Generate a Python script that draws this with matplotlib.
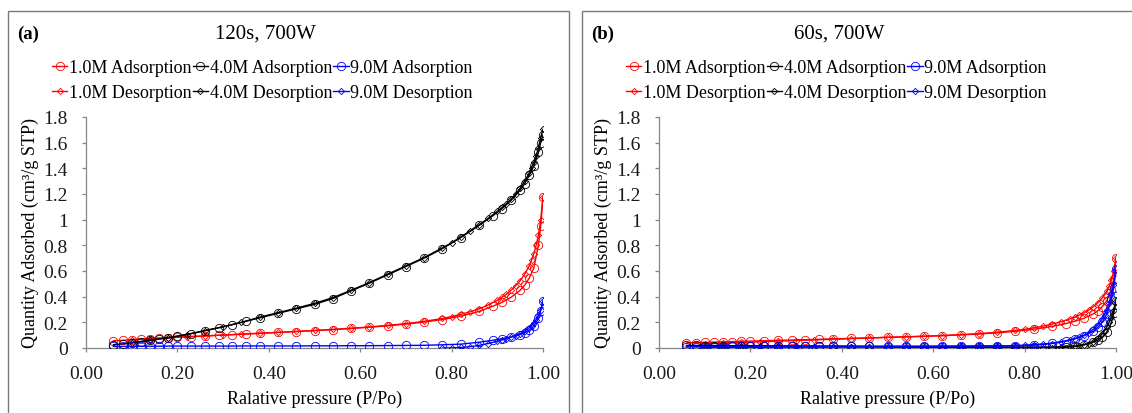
"""N2 adsorption/desorption isotherms for two microwave treatments (120 s and 60 s at 700 W)."""

import matplotlib as mpl
import matplotlib.pyplot as plt
from matplotlib.patches import Rectangle
from matplotlib.ticker import FuncFormatter

W, H = 1132, 414

# relative pressure points (shared by every sample)
P_ADS = [0.06, 0.08, 0.10, 0.12, 0.14, 0.16, 0.18, 0.20, 0.23, 0.26, 0.29, 0.32,
         0.35, 0.38, 0.42, 0.46, 0.50, 0.54, 0.58, 0.62, 0.66, 0.70, 0.74, 0.78,
         0.82, 0.86, 0.89, 0.91, 0.93, 0.95, 0.96, 0.97, 0.98, 0.99, 0.995, 1.0]
P_DES = [1.0, 0.995, 0.99, 0.985, 0.98, 0.975, 0.97, 0.96, 0.95, 0.94, 0.93, 0.92,
         0.91, 0.90, 0.88, 0.86, 0.84, 0.82, 0.80, 0.78, 0.74, 0.70, 0.66, 0.62,
         0.58, 0.54, 0.50, 0.46, 0.42, 0.38, 0.34, 0.30, 0.26, 0.22, 0.18, 0.14, 0.10]

# ---- panel (a): 120s, 700W ----
A_10M_ADS = [0.057, 0.060, 0.064, 0.068, 0.072, 0.076, 0.080, 0.084, 0.089, 0.094, 0.099, 0.104,
             0.109, 0.114, 0.121, 0.128, 0.135, 0.143, 0.152, 0.162, 0.173, 0.186, 0.202, 0.222,
             0.248, 0.285, 0.325, 0.355, 0.395, 0.450, 0.490, 0.545, 0.625, 0.800, 0.950, 1.175]
A_10M_DES = [1.180, 1.000, 0.880, 0.800, 0.735, 0.685, 0.640, 0.575, 0.525, 0.485, 0.450, 0.420,
             0.395, 0.372, 0.335, 0.305, 0.282, 0.262, 0.245, 0.230, 0.208, 0.190, 0.176, 0.164,
             0.154, 0.145, 0.137, 0.129, 0.122, 0.115, 0.108, 0.101, 0.094, 0.087, 0.080, 0.073, 0.066]
A_40M_ADS = [0.025, 0.032, 0.040, 0.050, 0.060, 0.070, 0.080, 0.092, 0.112, 0.135, 0.158, 0.182,
             0.208, 0.235, 0.270, 0.305, 0.340, 0.385, 0.445, 0.505, 0.570, 0.635, 0.700, 0.775,
             0.860, 0.955, 1.030, 1.085, 1.150, 1.230, 1.280, 1.345, 1.420, 1.525, 1.600, 1.660]
A_40M_DES = [1.705, 1.640, 1.560, 1.500, 1.450, 1.405, 1.365, 1.300, 1.245, 1.200, 1.160, 1.125,
             1.095, 1.065, 1.010, 0.960, 0.912, 0.865, 0.820, 0.780, 0.705, 0.640, 0.575, 0.510,
             0.450, 0.392, 0.348, 0.310, 0.275, 0.240, 0.200, 0.165, 0.135, 0.105, 0.080, 0.060, 0.042]
A_90M_ADS = [0.012, 0.013, 0.013, 0.014, 0.014, 0.014, 0.015, 0.015, 0.015, 0.015, 0.015, 0.015,
             0.016, 0.016, 0.016, 0.016, 0.017, 0.017, 0.018, 0.018, 0.019, 0.020, 0.021, 0.025,
             0.030, 0.045, 0.060, 0.072, 0.085, 0.105, 0.120, 0.140, 0.170, 0.230, 0.290, 0.365]
A_90M_DES = [0.365, 0.300, 0.255, 0.220, 0.195, 0.175, 0.158, 0.132, 0.112, 0.097, 0.085, 0.073,
             0.062, 0.052, 0.035, 0.020, 0.010, 0.004, 0.001, 0.000]

# ---- panel (b): 60s, 700W ----
B_10M_ADS = [0.040, 0.042, 0.044, 0.046, 0.048, 0.050, 0.052, 0.054, 0.057, 0.060, 0.062, 0.065,
             0.068, 0.071, 0.075, 0.079, 0.083, 0.087, 0.091, 0.096, 0.102, 0.109, 0.118, 0.130,
             0.146, 0.168, 0.190, 0.208, 0.232, 0.265, 0.290, 0.322, 0.370, 0.450, 0.540, 0.705]
B_10M_DES = [0.705, 0.600, 0.530, 0.480, 0.445, 0.415, 0.390, 0.352, 0.320, 0.295, 0.275, 0.257,
             0.242, 0.228, 0.205, 0.186, 0.170, 0.157, 0.146, 0.137, 0.123, 0.112, 0.104, 0.097,
             0.092, 0.087, 0.083, 0.078, 0.073, 0.068, 0.063, 0.058, 0.053, 0.048, 0.043, 0.038, 0.034]
B_40M_ADS = [0.020, 0.020, 0.019, 0.019, 0.019, 0.018, 0.018, 0.018, 0.017, 0.017, 0.016, 0.016,
             0.015, 0.015, 0.014, 0.012, 0.010, 0.008, 0.007, 0.006, 0.006, 0.006, 0.006, 0.006,
             0.007, 0.008, 0.010, 0.015, 0.025, 0.045, 0.060, 0.085, 0.125, 0.200, 0.270, 0.365]
B_40M_DES = [0.370, 0.300, 0.245, 0.200, 0.165, 0.135, 0.110, 0.075, 0.050, 0.035, 0.025, 0.018,
             0.012, 0.008, 0.004, 0.003, 0.003, 0.004, 0.004, 0.005, 0.005, 0.006, 0.006, 0.007,
             0.007, 0.008, 0.008, 0.009, 0.010, 0.010, 0.011, 0.012, 0.013, 0.014, 0.015, 0.016, 0.018]
B_90M_ADS = [0.010, 0.010, 0.011, 0.011, 0.011, 0.012, 0.012, 0.012, 0.012, 0.013, 0.013, 0.013,
             0.013, 0.014, 0.014, 0.014, 0.015, 0.015, 0.015, 0.016, 0.016, 0.016, 0.017, 0.018,
             0.025, 0.038, 0.055, 0.072, 0.095, 0.130, 0.160, 0.200, 0.265, 0.380, 0.470, 0.615]
B_90M_DES = [0.615, 0.500, 0.420, 0.350, 0.300, 0.260, 0.228, 0.180, 0.145, 0.120, 0.100, 0.085,
             0.072, 0.062, 0.046, 0.035, 0.028, 0.023, 0.020, 0.018, 0.016, 0.014, 0.012, 0.011,
             0.010, 0.009, 0.008, 0.008, 0.007, 0.007, 0.006, 0.006, 0.006, 0.005, 0.005, 0.005, 0.005]

PANELS = [
    {
        "tag": "(a)", "title": "120s, 700W",
        "series": [("1.0M", A_10M_ADS, A_10M_DES), ("4.0M", A_40M_ADS, A_40M_DES),
                   ("9.0M", A_90M_ADS, A_90M_DES)],
    },
    {
        "tag": "(b)", "title": "60s, 700W",
        "series": [("1.0M", B_10M_ADS, B_10M_DES), ("4.0M", B_40M_ADS, B_40M_DES),
                   ("9.0M", B_90M_ADS, B_90M_DES)],
    },
]

COLORS = {"1.0M": "#ff0000", "4.0M": "#000000", "9.0M": "#0000ff"}
GRAY = "#868686"

# pixel layout (figure is W x H px)
BOX_X = [(8, 569), (582, 1160)]
AX_X = [(86, 543), (659, 1116)]
AX_Y = (118, 349)
TAG_X = [17, 591]
TITLE_X = [265, 839]
LEGEND_X = [52, 626]

mpl.rcParams.update({
    "font.family": ["Liberation Serif", "DejaVu Serif"],
    "font.size": 13,
    "axes.edgecolor": GRAY,
    "axes.linewidth": 0.9,
    "xtick.color": GRAY,
    "ytick.color": GRAY,
    "xtick.labelcolor": "#1a1a1a",
    "ytick.labelcolor": "#1a1a1a",
    "xtick.labelsize": 14,
    "ytick.labelsize": 14,
    "xtick.direction": "out",
    "ytick.direction": "out",
    "xtick.major.size": 3,
    "ytick.major.size": 3,
    "xtick.major.width": 0.9,
    "ytick.major.width": 0.9,
    "xtick.major.pad": 9,
    "ytick.major.pad": 10,
})


def fx(px):
    return px / W


def fy(px):
    return 1 - px / H


def _draw_panel(fig, i, panel):
    bx0, bx1 = BOX_X[i]
    fig.add_artist(Rectangle((fx(bx0), -0.1), fx(bx1 - bx0), fy(12) + 0.1,
                             transform=fig.transFigure, fill=False,
                             edgecolor="#7a7a7a", linewidth=1.0, clip_on=False))

    x0, x1 = AX_X[i]
    ax = fig.add_axes([fx(x0), fy(AX_Y[1]), fx(x1 - x0), (AX_Y[1] - AX_Y[0]) / H])

    for name, ads, des in panel["series"]:
        c = COLORS[name]
        ax.plot(P_ADS[:len(ads)], ads, color=c, linewidth=1.0, marker="o",
                markersize=6, markerfacecolor="none", markeredgewidth=0.6,
                label=f"{name} Adsorption", zorder=3)
        ax.plot(P_DES[:len(des)], des, color=c, linewidth=1.0, marker="D",
                markersize=3.2, markerfacecolor="none", markeredgewidth=0.6,
                label=f"{name} Desorption", zorder=3)

    ax.set_xlim(0, 1.0)
    ax.set_ylim(0, 1.8)
    ax.set_xticks([0, 0.2, 0.4, 0.6, 0.8, 1.0])
    ax.set_yticks([0, 0.2, 0.4, 0.6, 0.8, 1.0, 1.2, 1.4, 1.6, 1.8])
    ax.xaxis.set_major_formatter(FuncFormatter(lambda v, _p: f"{v:.2f}"))
    ax.yaxis.set_major_formatter(FuncFormatter(lambda v, _p: f"{v:g}"))
    for s in ("top", "right"):
        ax.spines[s].set_visible(False)
    ax.patch.set_alpha(0)

    ax.set_xlabel("Ralative pressure (P/Po)", labelpad=6, fontsize=13)
    ax.set_ylabel("Quantity Adsorbed (cm³/g STP)", labelpad=3, fontsize=13)

    fig.text(fx(TAG_X[i]), fy(34), panel["tag"], fontsize=13.5, fontweight="bold",
             ha="left", va="center")
    fig.text(fx(TITLE_X[i]), fy(34), panel["title"], fontsize=15,
             ha="center", va="center")

    handles, labels = ax.get_legend_handles_labels()
    fig.legend(handles, labels, ncol=3, frameon=False,
               loc="upper left", bbox_to_anchor=(fx(LEGEND_X[i]), fy(60)),
               borderpad=0, borderaxespad=0, handlelength=0.85, handletextpad=0.1,
               columnspacing=0.05, labelspacing=0.45, fontsize=13)


def main():
    fig = plt.figure(figsize=(W / 100, H / 100), dpi=100)
    for i, panel in enumerate(PANELS):
        _draw_panel(fig, i, panel)
    fig.savefig("out.png", dpi=100)
    plt.close(fig)


if __name__ == "__main__":
    main()
